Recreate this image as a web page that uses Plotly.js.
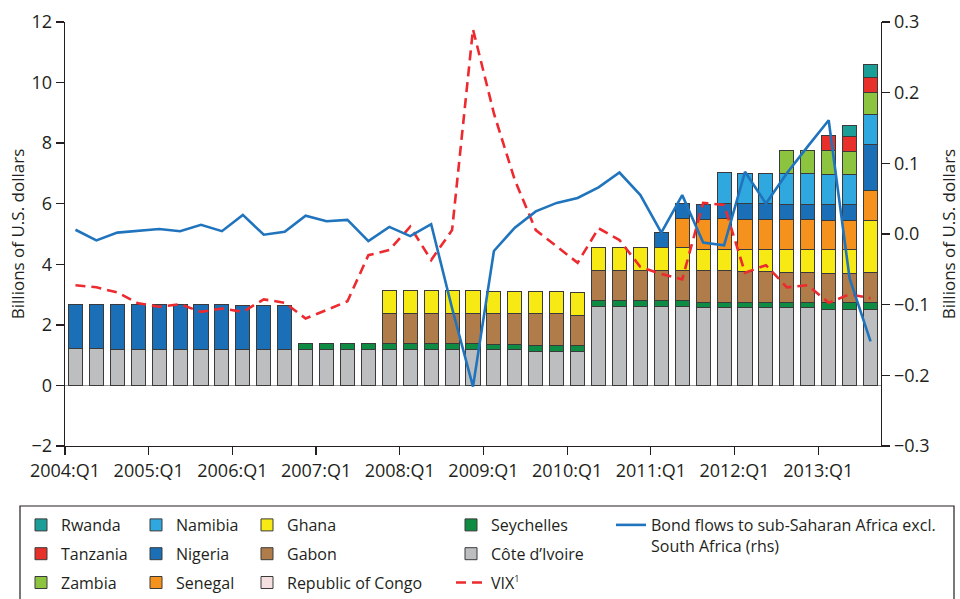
<!DOCTYPE html>
<html>
<head>
<meta charset="utf-8">
<script src="https://cdn.plot.ly/plotly-3.0.1.min.js"></script>
<style>body{margin:0;background:#fff}</style>
</head>
<body>
<div id="chart" style="width:960px;height:599px"></div>
<script>
const _ = null;

let quarters = ['2004:Q1','2004:Q2','2004:Q3','2004:Q4','2005:Q1','2005:Q2','2005:Q3','2005:Q4',
    '2006:Q1','2006:Q2','2006:Q3','2006:Q4','2007:Q1','2007:Q2','2007:Q3','2007:Q4',
    '2008:Q1','2008:Q2','2008:Q3','2008:Q4','2009:Q1','2009:Q2','2009:Q3','2009:Q4',
    '2010:Q1','2010:Q2','2010:Q3','2010:Q4','2011:Q1','2011:Q2','2011:Q3','2011:Q4',
    '2012:Q1','2012:Q2','2012:Q3','2012:Q4','2013:Q1','2013:Q2','2013:Q3'];
let tickLabels = ['2004:Q1','2005:Q1','2006:Q1','2007:Q1','2008:Q1','2009:Q1','2010:Q1','2011:Q1','2012:Q1','2013:Q1'];

// billions of US dollars, stacked from the bottom
let coteDIvoire = [1.23,1.23,1.19,1.19,1.19,1.19,1.19,1.19,1.19,1.19,1.19,1.19,1.19,1.19,1.17,1.17,1.17,1.17,1.17,1.17,
    1.17,1.17,1.12,1.12,1.12,2.61,2.61,2.61,2.61,2.61,2.56,2.56,2.56,2.56,2.56,2.56,2.51,2.51,2.51];
let seychelles = [_,_,_,_,_,_,_,_,_,_,_,0.20,0.20,0.20,0.22,0.22,0.22,0.22,0.22,0.22,
    0.19,0.19,0.21,0.21,0.21,0.20,0.20,0.20,0.20,0.20,0.19,0.19,0.19,0.19,0.19,0.19,0.22,0.22,0.22];
let gabon = [_,_,_,_,_,_,_,_,_,_,_,_,_,_,_,0.99,0.99,0.99,0.99,0.99,
    1.00,1.00,1.03,1.03,0.99,1.00,1.00,1.00,1.00,1.00,1.04,1.04,1.00,1.00,0.98,0.98,0.97,0.97,0.99];
let ghana = [_,_,_,_,_,_,_,_,_,_,_,_,_,_,_,0.75,0.75,0.75,0.75,0.75,
    0.73,0.73,0.73,0.73,0.75,0.75,0.75,0.75,0.75,0.75,0.71,0.71,0.75,0.75,0.75,0.75,0.78,0.78,1.74];
let senegal = [_,_,_,_,_,_,_,_,_,_,_,_,_,_,_,_,_,_,_,_,
    _,_,_,_,_,_,_,_,_,0.95,0.99,1.01,0.98,0.98,1.01,1.01,0.97,0.97,0.99];
let nigeria = [1.45,1.45,1.49,1.49,1.49,1.49,1.49,1.49,1.45,1.45,1.45,_,_,_,_,_,_,_,_,_,
    _,_,_,_,_,_,_,_,0.48,0.50,0.50,0.50,0.53,0.53,0.50,0.50,0.54,0.52,1.49];
let namibia = [_,_,_,_,_,_,_,_,_,_,_,_,_,_,_,_,_,_,_,_,
    _,_,_,_,_,_,_,_,_,_,_,1.01,0.99,0.99,1.02,1.02,0.99,0.99,1.01];
let zambia = [_,_,_,_,_,_,_,_,_,_,_,_,_,_,_,_,_,_,_,_,
    _,_,_,_,_,_,_,_,_,_,_,_,_,_,0.74,0.74,0.77,0.77,0.73];
let tanzania = [_,_,_,_,_,_,_,_,_,_,_,_,_,_,_,_,_,_,_,_,
    _,_,_,_,_,_,_,_,_,_,_,_,_,_,_,_,0.50,0.50,0.50];
let rwanda = [_,_,_,_,_,_,_,_,_,_,_,_,_,_,_,_,_,_,_,_,
    _,_,_,_,_,_,_,_,_,_,_,_,_,_,_,_,_,0.36,0.43];
let republicOfCongo = [_,_,_,_,_,_,_,_,_,_,_,_,_,_,_,_,_,_,_,_,
    _,_,_,_,_,_,_,_,_,_,_,_,_,_,_,_,_,_,_];

// VIX, scaled to the left axis
let vix = [3.31,3.24,3.07,2.71,2.60,2.68,2.43,2.54,2.43,2.84,2.73,2.21,2.49,2.78,4.30,4.47,5.24,4.14,5.13,11.76,
    8.98,6.78,5.13,4.58,4.05,5.19,4.80,3.91,3.68,3.50,6.03,5.96,3.72,3.97,3.24,3.31,2.73,3.01,2.88];
// bond flows, right axis
let bondFlows = [0.006,-0.009,0.002,0.005,0.007,0.004,0.013,0.004,0.027,-0.001,0.003,0.026,0.018,0.020,-0.010,0.010,-0.003,0.014,-0.105,-0.216,
    -0.024,0.009,0.032,0.044,0.051,0.066,0.087,0.055,0.002,0.055,-0.012,-0.016,0.088,0.043,0.086,0.124,0.161,-0.063,-0.152];

let xs = quarters.map((q, i) => i);
let tickPos = tickLabels.map(t => quarters.indexOf(t) - 0.5);

let ink = '#231f20';
let font = 'Open Sans, sans-serif';

function barTrace(name, values, color, legend, rank)
{
    return {
        x: xs,
        y: values,
        name: name,
        type: 'bar',
        hoverinfo: 'skip',
        marker: {color: color, line: {color: '#3a3a3a', width: 1}},
        legend: legend,
        legendgroup: name,
        legendrank: rank
    };
}

let data = [
    barTrace("Côte d’Ivoire", coteDIvoire, '#bcbec0', 'legend4', 2),
    barTrace('Seychelles', seychelles, '#0f8c44', 'legend4', 1),
    barTrace('Gabon', gabon, '#b07c49', 'legend3', 2),
    barTrace('Ghana', ghana, '#f7e914', 'legend3', 1),
    barTrace('Senegal', senegal, '#f5921e', 'legend2', 3),
    barTrace('Nigeria', nigeria, '#1a6fb7', 'legend2', 2),
    barTrace('Namibia', namibia, '#2fa8e0', 'legend2', 1),
    barTrace('Zambia', zambia, '#8dc43f', 'legend', 3),
    barTrace('Tanzania', tanzania, '#e8302b', 'legend', 2),
    barTrace('Rwanda', rwanda, '#1c9e98', 'legend', 1),
    barTrace('Republic of Congo', republicOfCongo, '#f5dfe0', 'legend3', 3),
    {
        x: xs,
        y: vix,
        name: 'VIX<sup><span style="font-size:9px">1</span></sup>',
        type: 'scatter',
        mode: 'lines',
        hoverinfo: 'skip',
        line: {color: '#ec2a2f', width: 2.6, dash: '10px,6px'},
        legend: 'legend4',
        legendgroup: 'vix',
        legendrank: 3
    },
    {
        x: xs,
        y: bondFlows,
        yaxis: 'y2',
        name: 'Bond flows to sub-Saharan Africa excl.<br>South Africa (rhs)',
        type: 'scatter',
        mode: 'lines',
        hoverinfo: 'skip',
        line: {color: '#1f74bd', width: 2.6},
        legend: 'legend5',
        legendgroup: 'bond',
        legendrank: 1
    }
];

function legendAt(px)
{
    return {
        x: (px - 65) / 816,
        y: (446 - 508) / 424,
        xanchor: 'left',
        yanchor: 'top',
        orientation: 'v',
        traceorder: 'grouped',
        tracegroupgap: 5,
        bgcolor: 'rgba(0,0,0,0)',
        borderwidth: 0,
        valign: 'top',
        font: {family: font, size: 16, color: ink}
    };
}

let axisBase = {
    showline: true,
    linecolor: ink,
    linewidth: 1.3,
    ticks: 'outside',
    ticklen: 8,
    tickwidth: 1.3,
    tickcolor: ink,
    showgrid: false,
    tickfont: {family: font, size: 18, color: ink}
};

let layout = {
    width: 960,
    height: 599,
    margin: {l: 65, r: 79, t: 22, b: 153, autoexpand: false},
    paper_bgcolor: '#fff',
    plot_bgcolor: '#fff',
    barmode: 'stack',
    bargap: 0.33,
    showlegend: true,
    font: {family: font, color: ink},
    xaxis: Object.assign({}, axisBase, {
        range: [-0.5, 38.5],
        tickvals: tickPos,
        ticktext: tickLabels,
        zeroline: false
    }),
    yaxis: Object.assign({}, axisBase, {
        range: [-2, 12],
        dtick: 2,
        zeroline: true,
        zerolinecolor: '#9a9a9a',
        zerolinewidth: 1.5,
        title: {text: 'Billions of U.S. dollars', font: {family: font, size: 17, color: ink}, standoff: 2}
    }),
    yaxis2: Object.assign({}, axisBase, {
        overlaying: 'y',
        side: 'right',
        range: [-0.3, 0.3],
        dtick: 0.1,
        tickformat: '.1f',
        zeroline: false,
        title: {text: 'Billions of U.S. dollars', font: {family: font, size: 17, color: ink}, standoff: 23}
    }),
    legend: legendAt(21),
    legend2: legendAt(136),
    legend3: legendAt(247),
    legend4: legendAt(451),
    legend5: legendAt(611),
    shapes: [{
        type: 'rect',
        xref: 'paper',
        yref: 'paper',
        x0: (20 - 65) / 816,
        x1: (954 - 65) / 816,
        y0: (446 - 506) / 424,
        y1: (446 - 640) / 424,
        line: {color: ink, width: 1.2},
        fillcolor: 'rgba(0,0,0,0)'
    }]
};

Plotly.newPlot('chart', data, layout, {displayModeBar: false, staticPlot: true});
</script>
</body>
</html>
